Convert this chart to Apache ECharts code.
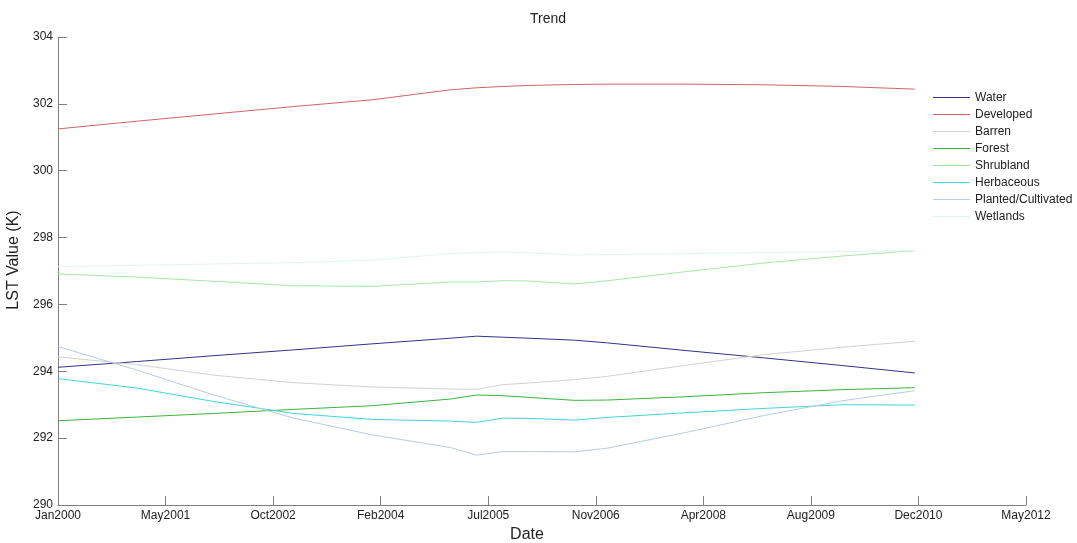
<!DOCTYPE html>
<html>
<head>
<meta charset="utf-8">
<script src="https://cdn.jsdelivr.net/npm/echarts@6/dist/echarts.min.js"></script>
<style>
  html, body { margin: 0; padding: 0; background: #ffffff; }
  #chart { width: 1077px; height: 543px; }
</style>
</head>
<body>
<div id="chart"></div>
<script>
// Sample dates (year-month) shared by every land-cover series
const dates = ['2000-01', '2001-01', '2002-01', '2003-01', '2004-01', '2005-01', '2005-05',
  '2005-09', '2006-01', '2006-08', '2007-01', '2008-01', '2009-01', '2010-01', '2010-12'];

// Mean land surface temperature per class (K)
const water      = [294.12, 294.29, 294.47, 294.64, 294.82, 294.99, 295.05, 295.02, 294.99, 294.93, 294.85, 294.62, 294.40, 294.17, 293.95];
const developed  = [301.25, 301.48, 301.70, 301.92, 302.12, 302.42, 302.48, 302.52, 302.55, 302.58, 302.59, 302.59, 302.57, 302.52, 302.44];
const barren     = [294.43, 294.20, 293.88, 293.66, 293.53, 293.47, 293.46, 293.60, 293.65, 293.75, 293.85, 294.18, 294.50, 294.72, 294.90];
const forest     = [292.52, 292.63, 292.74, 292.86, 292.97, 293.17, 293.29, 293.27, 293.22, 293.13, 293.14, 293.24, 293.36, 293.45, 293.51];
const shrubland  = [296.91, 296.82, 296.69, 296.56, 296.54, 296.67, 296.67, 296.71, 296.70, 296.61, 296.71, 296.98, 297.24, 297.45, 297.61];
const herbaceous = [293.78, 293.50, 293.09, 292.74, 292.56, 292.51, 292.47, 292.60, 292.59, 292.54, 292.62, 292.76, 292.89, 293.00, 292.99];
const planted    = [294.74, 294.04, 293.28, 292.60, 292.10, 291.72, 291.49, 291.60, 291.60, 291.59, 291.70, 292.17, 292.68, 293.12, 293.42];
const wetlands   = [297.13, 297.17, 297.21, 297.25, 297.32, 297.52, 297.55, 297.57, 297.54, 297.48, 297.49, 297.52, 297.55, 297.58, 297.61];

const seriesNames = ['Water', 'Developed', 'Barren', 'Forest', 'Shrubland', 'Herbaceous', 'Planted/Cultivated', 'Wetlands'];
const seriesColors = ['#33338a', '#cc6666', '#d2d2d2', '#3cb43c', '#a4e8a4', '#44d4dc', '#b9cbe0', '#def5f2'];
const seriesValues = [water, developed, barren, forest, shrubland, herbaceous, planted, wetlands];

// Date tick labels along the x axis (evenly spaced)
const xTickLabels = ['Jan2000', 'May2001', 'Oct2002', 'Feb2004', 'Jul2005', 'Nov2006', 'Apr2008', 'Aug2009', 'Dec2010', 'May2012'];
const yTicks = [290, 304, 2];

// x positions in months since Jan 2000
function monthIndex(s) {
  const [y, m] = s.split('-').map(Number);
  return (y - 2000) * 12 + (m - 1);
}
const xs = dates.map(monthIndex);
const xMax = 148;
const xStep = xMax / (xTickLabels.length - 1);

const font = '"Liberation Sans", Arial, sans-serif';
const axisGray = '#7f7f7f';

const chart = echarts.init(document.getElementById('chart'), null, { renderer: 'canvas' });
chart.setOption({
  animation: false,
  backgroundColor: '#ffffff',
  title: {
    text: 'Trend',
    left: 530,
    top: 12,
    padding: 0,
    textStyle: { fontFamily: font, fontSize: 14, fontWeight: 'normal', color: '#222' }
  },
  legend: {
    orient: 'vertical',
    left: 933,
    top: 90,
    padding: 0,
    itemWidth: 37,
    itemHeight: 1,
    itemGap: 2,
    icon: 'rect',
    textStyle: { fontFamily: font, fontSize: 12, lineHeight: 15, color: '#222' },
    data: seriesNames.map((name, i) => ({ name, itemStyle: { color: seriesColors[i] } }))
  },
  grid: { left: 58, right: 51, top: 37, bottom: 38, containLabel: false, outerBoundsMode: 'none' },
  xAxis: {
    type: 'value',
    min: 0,
    max: xMax,
    interval: xStep,
    name: 'Date',
    nameLocation: 'middle',
    nameGap: 22,
    nameTextStyle: { fontFamily: font, fontSize: 16, color: '#222', padding: [0, 30, 0, 0] },
    axisLine: { show: true, lineStyle: { color: axisGray, width: 1 } },
    axisTick: { show: true, inside: true, length: 9, lineStyle: { color: axisGray } },
    splitLine: { show: false },
    axisLabel: {
      fontFamily: font, fontSize: 12, color: '#222', margin: 5,
      formatter: v => xTickLabels[Math.round(v / xStep)] || ''
    }
  },
  yAxis: {
    type: 'value',
    min: yTicks[0],
    max: yTicks[1],
    interval: yTicks[2],
    name: 'LST Value (K)',
    nameLocation: 'middle',
    nameGap: 22,
    nameTextStyle: { fontFamily: font, fontSize: 16, color: '#222', padding: [0, 0, 0, 22] },
    axisLine: { show: true, lineStyle: { color: axisGray, width: 1 } },
    axisTick: { show: true, inside: true, length: 9, lineStyle: { color: axisGray } },
    splitLine: { show: false },
    axisLabel: { fontFamily: font, fontSize: 12, color: '#222', margin: 5 }
  },
  series: seriesNames.map((name, i) => ({
    name,
    type: 'line',
    showSymbol: false,
    symbol: 'none',
    color: seriesColors[i],
    lineStyle: { width: 1, color: seriesColors[i] },
    data: xs.map((x, k) => [x, seriesValues[i][k]])
  }))
});
</script>
</body>
</html>
